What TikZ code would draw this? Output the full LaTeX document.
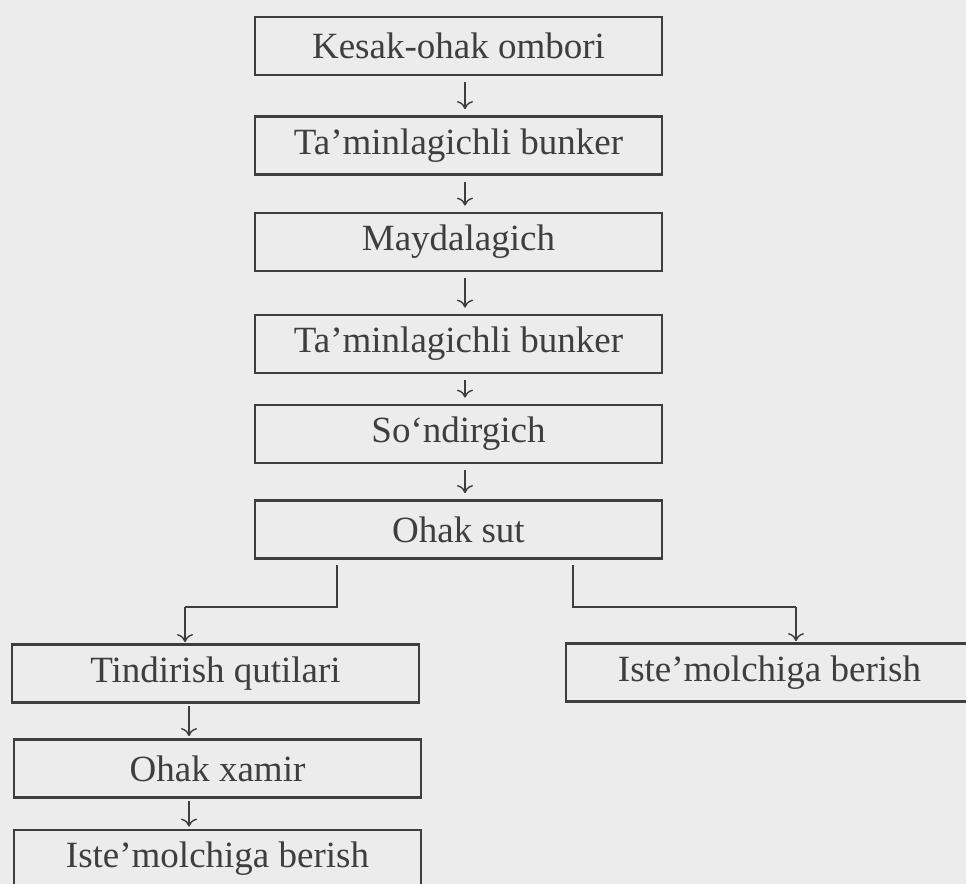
\documentclass[tikz,border=0pt]{standalone}
\usepackage{fontspec}
\setmainfont{Liberation Serif}
\usetikzlibrary{calc,arrows.meta}
\definecolor{paper}{RGB}{236,236,236}
\definecolor{ink}{RGB}{62,62,62}

\begin{document}
\begin{tikzpicture}[x=0.5pt,y=-0.5pt,
    box/.style={draw=ink,line width=1.4pt,minimum width=203.5pt,minimum height=29pt,
      inner sep=0pt,text=ink,font=\fontsize{18.5}{20}\selectfont},
    flow/.style={draw=ink,line width=0.7pt,-{To[length=4pt,width=8pt]},shorten <=3pt,shorten >=3pt},
    branch/.style={draw=ink,line width=1.4pt}]
  \clip (0,0) rectangle (966,884);
  \fill[paper] (0,0) rectangle (966,884);
  % main line
  \node[box] (N1) at (458.5,46) {Kesak-ohak ombori};
  \node[box] (N2) at (458.5,145.5) {Ta’minlagichli bunker};
  \node[box] (N3) at (458.5,242) {Maydalagich};
  \node[box] (N4) at (458.5,344) {Ta’minlagichli bunker};
  \node[box] (N5) at (458.5,434) {So‘ndirgich};
  \node[box] (N6) at (458.5,529.5) {Ohak sut};
  % two branches
  \node[box] (N7) at (215.5,673.5) {Tindirish qutilari};
  \node[box] (N8) at (769.5,672.5) {Iste’molchiga berish};
  \node[box] (N9) at (217.5,768.5) {Ohak xamir};
  \node[box] (N10) at (217.5,859) {Iste’molchiga berish};
  \coordinate (S) at (465,0);
  \coordinate (T) at (189,0);
  \coordinate (L1) at (337,607);
  \coordinate (L2) at (185,607);
  \coordinate (R1) at (573,607);
  \coordinate (R2) at (796,607);
  \path (N1.south -| S) edge[flow] (N2.north -| S)
        (N2.south -| S) edge[flow] (N3.north -| S)
        (N3.south -| S) edge[flow] (N4.north -| S)
        (N4.south -| S) edge[flow] (N5.north -| S)
        (N5.south -| S) edge[flow] (N6.north -| S);
  \draw[branch] ($(N6.south -| L1)+(0,5)$) -- (L1) -- (L2);
  \draw[branch] ($(N6.south -| R1)+(0,5)$) -- (R1) -- (R2);
  \path (L2) edge[flow,shorten <=0pt,shorten >=0.5pt] (N7.north -| L2)
        (R2) edge[flow,shorten <=0pt,shorten >=0.5pt] (N8.north -| R2);
  \path (N7.south -| T) edge[flow,shorten <=1pt,shorten >=1pt] (N9.north -| T)
        (N9.south -| T) edge[flow,shorten <=1pt,shorten >=1pt] (N10.north -| T);
\end{tikzpicture}
\end{document}
